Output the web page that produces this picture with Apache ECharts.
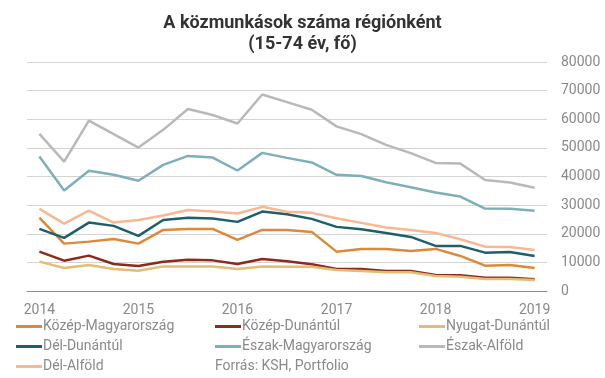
<!DOCTYPE html>
<html><head><meta charset="utf-8">
<script src="https://cdn.jsdelivr.net/npm/echarts@6/dist/echarts.min.js"></script>
<style>html,body{margin:0;padding:0;background:#fff}#c{width:605px;height:378px}</style>
</head><body><div id="c"></div>
<script>
const categories = ['2014 I.','2014 II.','2014 III.','2014 IV.','2015 I.','2015 II.','2015 III.','2015 IV.','2016 I.','2016 II.','2016 III.','2016 IV.','2017 I.','2017 II.','2017 III.','2017 IV.','2018 I.','2018 II.','2018 III.','2018 IV.','2019 I.'];
const kozepMagyarorszag = [25650,16550,17250,18200,16550,21350,21700,21700,17850,21350,21350,20650,13750,14700,14700,14000,14700,12250,8850,9100,8050];
const kozepDunantul = [13750,10600,12350,9450,8750,10250,10950,10700,9450,11200,10400,9350,7700,7700,7000,7000,5600,5500,4650,4650,4100];
const nyugatDunantul = [10250,8050,9100,7700,7100,8600,8600,8600,7700,8600,8450,8500,7350,7000,6550,6550,5250,5000,4200,4200,3850];
const delDunantul = [21700,18550,23900,22750,19250,24800,25550,25300,24150,27750,26800,25200,22400,21550,20300,18900,15750,15750,13400,13650,12250];
const eszakMagyarorszag = [47000,35100,42000,40600,38500,44050,47200,46600,42100,48250,46500,44900,40600,40200,38000,36250,34400,33000,28800,28700,28000];
const eszakAlfold = [54900,45200,59550,54800,50100,56300,63600,61500,58500,68650,66000,63300,57500,54800,51050,48150,44750,44500,38800,37900,36100];
const delAlfold = [28700,23550,28100,23900,24800,26350,28300,27750,27050,29400,27700,27300,25400,23800,22150,21350,20300,18100,15500,15400,14350];
const seriesNames = ['Közép-Magyarország','Közép-Dunántúl','Nyugat-Dunántúl','Dél-Dunántúl','Észak-Magyarország','Észak-Alföld','Dél-Alföld'];
const seriesData = [kozepMagyarorszag,kozepDunantul,nyugatDunantul,delDunantul,eszakMagyarorszag,eszakAlfold,delAlfold];
const colors = ['#E0883A','#8E2A1C','#E3BD73','#1E5F6A','#7DB0B7','#B9B9B9','#F8B890'];
const title = 'A közmunkások száma régiónként\n(15-74 év, fő)';
const source = 'Forrás: KSH, Portfolio';

const chart = echarts.init(document.getElementById('c'), null, {renderer:'canvas'});
const txt = {color:'#8a8a8a', fontFamily:'Roboto, Arial, sans-serif', fontSize:14};
const legendBase = {
  orient:'vertical', icon:'rect', itemWidth:26, itemHeight:3, itemGap:1, padding:0, height:62,
  textStyle:Object.assign({}, txt, {padding:[0,0,0,-4], lineHeight:19})
};
chart.setOption({
  animation:false,
  color:colors,
  title:{text:title, left:'center', top:8, textStyle:{fontFamily:'Roboto, Arial, sans-serif', fontWeight:'bold', fontSize:18, lineHeight:21, color:'#333'}},
  grid:{left:27, right:58, top:62, bottom:87, containLabel:false},
  legend:[
    Object.assign({}, legendBase, {left:16, top:317, data:[seriesNames[0],seriesNames[3],seriesNames[6]]}),
    Object.assign({}, legendBase, {left:215, top:317, data:[seriesNames[1],seriesNames[4]]}),
    Object.assign({}, legendBase, {left:419, top:317, data:[seriesNames[2],seriesNames[5]]})
  ],
  graphic:[{type:'text', left:215, top:359, style:{text:source, fill:'#8a8a8a', font:'14px Roboto, Arial, sans-serif'}}],
  xAxis:{type:'category', data:categories, boundaryGap:true,
    axisLine:{lineStyle:{color:'#8c8c8c', width:1}}, axisTick:{show:false},
    axisLabel:Object.assign({}, txt, {interval:3, margin:12, formatter:v=>v.slice(0,4)})},
  yAxis:{type:'value', position:'right', min:0, max:80000, interval:10000,
    axisLine:{show:false}, axisTick:{show:false},
    splitLine:{lineStyle:{color:'#d4d4d4', width:1}},
    axisLabel:Object.assign({}, txt, {margin:14, align:'left', formatter:v=>String(v)})},
  series:seriesNames.map((n,i)=>({name:n, type:'line', data:seriesData[i], symbol:'none', lineStyle:{width:2.5, color:colors[i]}, itemStyle:{color:colors[i]}}))
});
</script></body></html>
